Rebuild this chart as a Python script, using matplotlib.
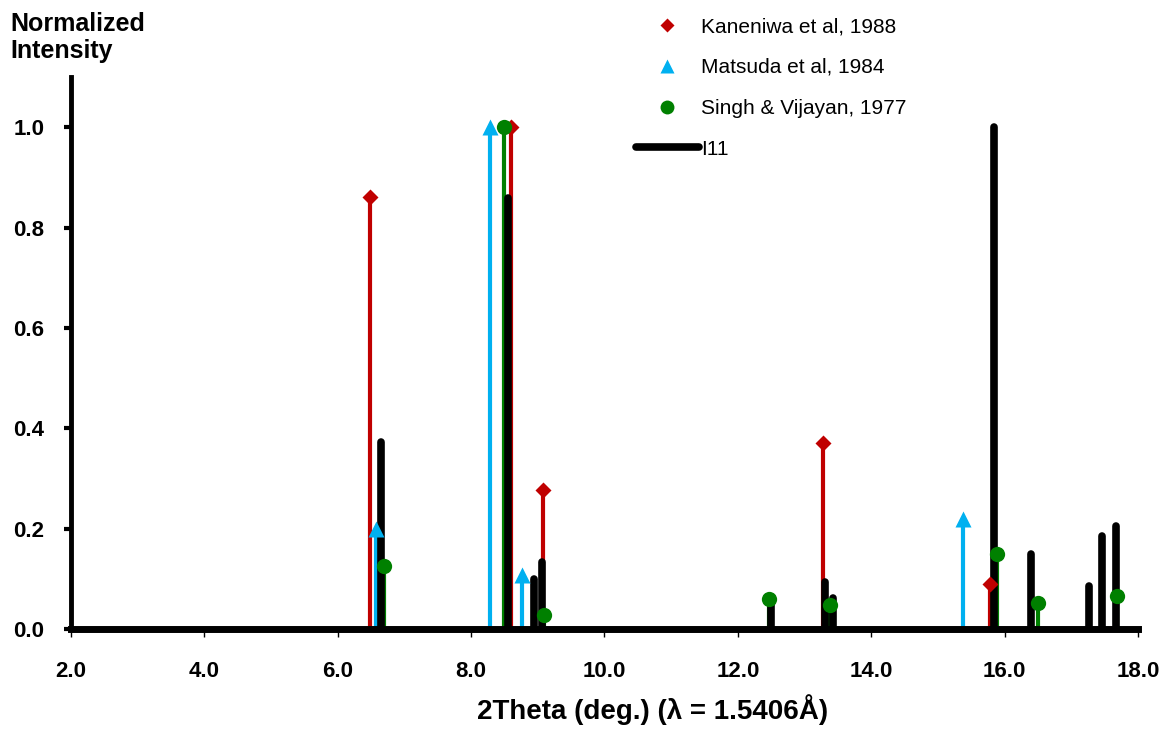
import matplotlib
matplotlib.use("Agg")
import matplotlib.pyplot as plt
from matplotlib.lines import Line2D

plt.rcParams['font.family'] = ['Liberation Sans', 'DejaVu Sans']

# Reference peak positions (2-theta, deg) and normalized intensities
kaneniwa_x = [6.49, 8.60, 9.08, 13.28, 15.78]
kaneniwa_y = [0.86, 1.00, 0.277, 0.370, 0.090]

matsuda_x = [6.58, 8.29, 8.77, 15.38]
matsuda_y = [0.20, 1.00, 0.108, 0.22]

singh_x = [6.69, 8.50, 9.09, 12.47, 13.38, 15.88, 16.50, 17.69]
singh_y = [0.125, 1.00, 0.028, 0.060, 0.048, 0.150, 0.052, 0.065]

# Measured I11 peaks
i11_x = [6.65, 8.55, 8.94, 9.07, 12.50, 13.31, 13.43, 15.84, 16.40, 17.27, 17.46, 17.67]
i11_y = [0.372, 0.858, 0.100, 0.134, 0.048, 0.094, 0.062, 1.00, 0.150, 0.086, 0.185, 0.205]

xticks = [2, 4, 6, 8, 10, 12, 14, 16, 18]
yticks = [0.0, 0.2, 0.4, 0.6, 0.8, 1.0]

RED = '#C00000'
BLUE = '#00B0F0'
GREEN = '#008000'

fig = plt.figure(figsize=(11.69, 7.31), dpi=100)
ax = fig.add_axes([0.0607, 0.1395, 0.9128, 0.7551])

# colored stems for the literature patterns
ax.vlines(kaneniwa_x, 0, kaneniwa_y, color=RED, lw=3, zorder=2)
ax.vlines(matsuda_x, 0, matsuda_y, color=BLUE, lw=3, zorder=2)
ax.vlines(singh_x, 0, singh_y, color=GREEN, lw=3, zorder=2)

# I11 peaks as thick black sticks
for xv, yv in zip(i11_x, i11_y):
    ax.plot([xv, xv], [0, yv], color='black', lw=5.5, solid_capstyle='round', zorder=3)

ax.plot(kaneniwa_x, kaneniwa_y, 'D', color=RED, ms=8, mec='none', zorder=4)
ax.plot(matsuda_x, matsuda_y, '^', color=BLUE, ms=11, mec='none', zorder=4)
ax.plot(singh_x, singh_y, 'o', color=GREEN, ms=11, mec='none', zorder=4)

ax.set_xlim(2, 18)
ax.set_ylim(0, 1.1)
ax.set_xticks(xticks)
ax.set_xticklabels([f'{v:.1f}' for v in xticks])
ax.set_yticks(yticks)
ax.set_yticklabels([f'{v:.1f}' for v in yticks])

for side in ('top', 'right'):
    ax.spines[side].set_visible(False)
ax.spines['left'].set_linewidth(3.5)
ax.spines['bottom'].set_linewidth(5)
ax.spines['bottom'].set_zorder(5)

ax.tick_params(axis='y', direction='out', length=5, width=3, pad=14,
               labelsize=16)
ax.tick_params(axis='x', direction='out', length=6, width=1, pad=17,
               labelsize=16)
for lab in ax.get_xticklabels() + ax.get_yticklabels():
    lab.set_fontweight('bold')

ax.set_xlabel('2Theta (deg.) (λ = 1.5406Å)', fontsize=20, fontweight='bold',
              labelpad=10)
ax.xaxis.set_label_coords(0.545, -0.118)
fig.text(0.009, 0.983, 'Normalized\nIntensity', fontsize=18, fontweight='bold',
         ha='left', va='top', linespacing=1.15)

handles = [
    Line2D([], [], ls='none', marker='D', color=RED, ms=7, mec='none'),
    Line2D([], [], ls='none', marker='^', color=BLUE, ms=10, mec='none'),
    Line2D([], [], ls='none', marker='o', color=GREEN, ms=10, mec='none'),
    Line2D([], [], color='black', lw=5.5, solid_capstyle='round'),
]
labels = ['Kaneniwa et al, 1988', 'Matsuda et al, 1984',
          'Singh & Vijayan, 1977', 'I11']
fig.legend(handles, labels, loc='upper left', bbox_to_anchor=(0.537, 0.988),
           frameon=False, fontsize=15, handlelength=3.0, handletextpad=0.1,
           labelspacing=1.05, borderaxespad=0)

fig.savefig('out.png', dpi=100)
